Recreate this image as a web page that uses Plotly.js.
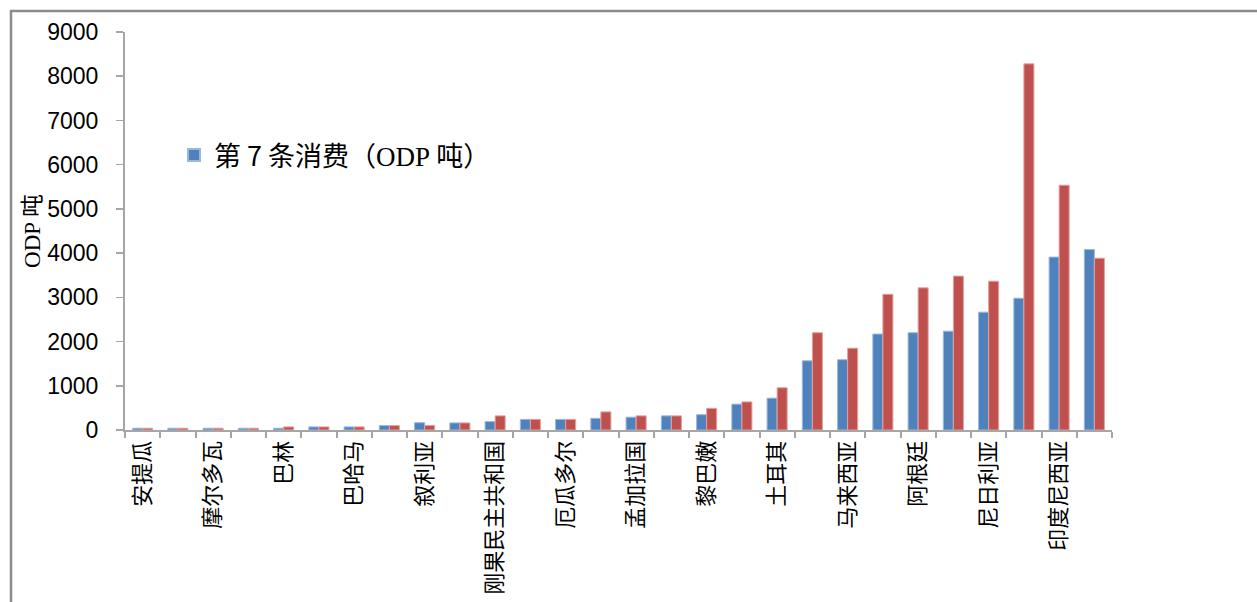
<!DOCTYPE html>
<html>
<head>
<meta charset="utf-8">
<script src="https://cdn.plot.ly/plotly-3.0.1.min.js"></script>
<style>
  html, body { margin: 0; padding: 0; background: #ffffff; }
  #chart { width: 1257px; height: 602px; }
</style>
</head>
<body>
<div id="chart"></div>
<script>
// Countries labelled on the axis (every second group carries a label)
const countryLabels = [
  '安提瓜', '摩尔多瓦', '巴林', '巴哈马', '叙利亚', '刚果民主共和国', '厄瓜多尔',
  '孟加拉国', '黎巴嫩', '土耳其', '马来西亚', '阿根廷', '尼日利亚', '印度尼西亚'
];

// Article 7 consumption, ODP tonnes (blue series)
const article7Consumption = [
  40, 40, 40, 40, 40, 70, 70, 100, 165, 160, 190, 240, 240, 264,
  290, 320, 346, 585, 720, 1565, 1590, 2170, 2200, 2235, 2665, 2980, 3910, 4080
];

// Comparison series, ODP tonnes (red series)
const comparisonConsumption = [
  40, 40, 40, 40, 70, 70, 70, 100, 105, 160, 320, 240, 240, 410,
  320, 320, 490, 635, 955, 2200, 1850, 3070, 3215, 3480, 3365, 8280, 5535, 3885
];

const seriesName = '第 7 条消费（<span style="font-family:\'Liberation Serif\'">ODP</span> 吨）';
const yTitle = 'ODP 吨';

const groupIndex = article7Consumption.map((_, i) => i);
const labelPositions = countryLabels.map((_, i) => i * 2);
const boundaries = [];
for (let i = 0; i <= article7Consumption.length; i++) boundaries.push(i - 0.5);

// Plot-area geometry in pixels, used to place the frame lines and legend
const W = 1257, H = 602;
const M = { l: 125, r: 145, t: 32, b: 172 };
const pw = W - M.l - M.r, ph = H - M.t - M.b;
const px = v => (v - M.l) / pw;
const py = v => (H - M.b - v) / ph;

const traces = [
  {
    type: 'bar',
    x: groupIndex,
    y: article7Consumption,
    name: seriesName,
    marker: { color: '#4F81BD', line: { color: '#9bb8dc', width: 1 } },
    hoverinfo: 'y'
  },
  {
    type: 'bar',
    x: groupIndex,
    y: comparisonConsumption,
    name: '对比',
    showlegend: false,
    marker: { color: '#C0504D', line: { color: '#e0a3a1', width: 1 } },
    hoverinfo: 'y'
  }
];

const layout = {
  width: W,
  height: H,
  margin: M,
  paper_bgcolor: '#ffffff',
  plot_bgcolor: '#ffffff',
  barmode: 'group',
  bargap: 0.43,
  bargroupgap: 0,
  showlegend: true,
  legend: {
    x: px(174),
    y: py(131),
    xanchor: 'left',
    yanchor: 'top',
    bgcolor: 'rgba(0,0,0,0)',
    font: { family: 'Noto Sans CJK SC', size: 27, color: '#000000' },
    itemsizing: 'constant'
  },
  xaxis: {
    type: 'linear',
    range: [-0.5, article7Consumption.length - 0.5],
    tickmode: 'array',
    tickvals: labelPositions,
    ticktext: countryLabels,
    ticks: '',
    tickangle: -90,
    tickfont: { family: 'Noto Sans CJK SC', size: 22, color: '#000000' },
    showline: true,
    linecolor: '#a6a6a6',
    linewidth: 2,
    showgrid: false,
    zeroline: false,
    minor: {
      tickmode: 'array',
      tickvals: boundaries,
      ticks: 'outside',
      ticklen: 6,
      tickwidth: 2,
      tickcolor: '#a6a6a6',
      showgrid: false
    }
  },
  yaxis: {
    range: [0, 9000],
    tickmode: 'linear',
    tick0: 0,
    dtick: 1000,
    ticks: 'outside',
    ticklen: 7,
    tickwidth: 1.5,
    tickcolor: '#a6a6a6',
    ticklabelstandoff: 13,
    tickfont: { family: 'Liberation Sans', size: 23, color: '#000000' },
    showline: true,
    linecolor: '#a6a6a6',
    linewidth: 2,
    showgrid: false,
    zeroline: false,
    title: {
      text: yTitle,
      font: { family: 'Liberation Serif, Noto Sans CJK SC', size: 23, color: '#000000' },
      standoff: 0
    }
  },
  shapes: [
    { type: 'line', xref: 'paper', yref: 'paper', x0: px(10), x1: px(W), y0: py(11), y1: py(11),
      line: { color: '#8c8c8c', width: 2.5 } },
    { type: 'line', xref: 'paper', yref: 'paper', x0: px(11), x1: px(11), y0: py(10), y1: py(H),
      line: { color: '#8c8c8c', width: 2.5 } }
  ]
};

Plotly.newPlot('chart', traces, layout, { displayModeBar: false, staticPlot: true });
</script>
</body>
</html>
